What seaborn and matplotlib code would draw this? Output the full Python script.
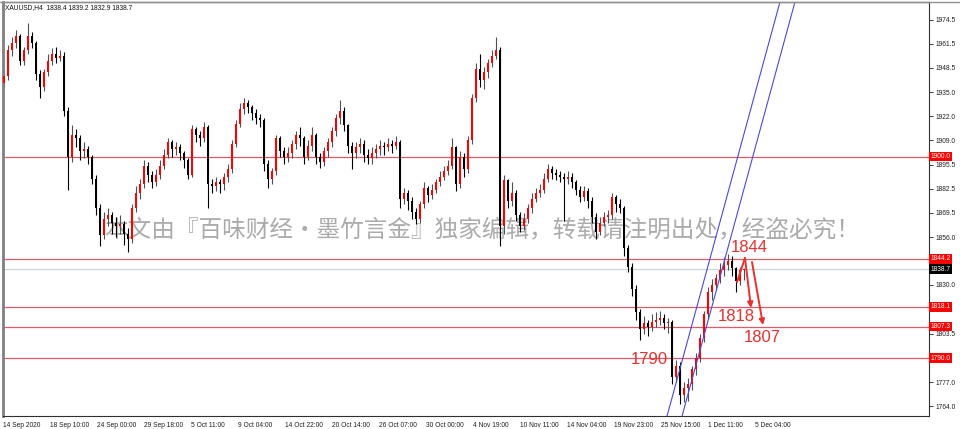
import seaborn as sns
import matplotlib.pyplot as plt
import numpy as np
import pandas as pd
from matplotlib.lines import Line2D

# XAUUSD H4, one entry per drawn candle
first_open = 1940.0
closes = [1944, 1958, 1962, 1966, 1952, 1958, 1966, 1962, 1945, 1938,
          1946, 1952, 1956, 1954, 1955, 1925, 1900, 1912, 1910, 1903,
          1904, 1900, 1888, 1872, 1857, 1866, 1868, 1864, 1862, 1863,
          1858, 1855, 1872, 1880, 1885, 1895, 1890, 1886, 1890, 1895,
          1901, 1908, 1904, 1905, 1902, 1898, 1890, 1915, 1912, 1910,
          1916, 1885, 1884, 1886, 1885, 1889, 1893, 1907, 1918, 1926,
          1929, 1927, 1924, 1921, 1920, 1896, 1888, 1892, 1910, 1903,
          1900, 1902, 1907, 1912, 1910, 1900, 1906, 1912, 1900, 1897,
          1903, 1908, 1914, 1921, 1925, 1917, 1906, 1902, 1905, 1907,
          1901, 1899, 1902, 1904, 1906, 1905, 1907, 1906, 1908, 1877,
          1880, 1876, 1870, 1866, 1874, 1883, 1879, 1882, 1886, 1889,
          1892, 1895, 1905, 1885, 1900, 1893, 1909, 1932, 1948, 1942,
          1946, 1951, 1955, 1958, 1862, 1887, 1876, 1880, 1868, 1862,
          1866, 1872, 1877, 1880, 1882, 1888, 1893, 1891, 1890, 1889,
          1888, 1889, 1886, 1882, 1878, 1881, 1876, 1867, 1859, 1864,
          1867, 1868, 1878, 1874, 1872, 1850, 1840, 1828, 1815, 1806,
          1809, 1807, 1810, 1811, 1812, 1809, 1810, 1780, 1786, 1770,
          1774, 1776, 1784, 1790, 1801, 1814, 1826, 1830, 1834, 1838,
          1841, 1843, 1839, 1832, 1838.4, 1838.7]
highs = [1947, 1961, 1965, 1969, 1967, 1960, 1973, 1968, 1963, 1947,
         1948, 1956, 1959, 1960, 1958, 1957, 1927, 1917, 1915, 1912,
         1908, 1906, 1901, 1890, 1874, 1870, 1872, 1870, 1867, 1868,
         1865, 1861, 1874, 1884, 1888, 1898, 1897, 1892, 1893, 1898,
         1904, 1910, 1909, 1908, 1907, 1903, 1899, 1917, 1916, 1914,
         1919, 1917, 1888, 1889, 1888, 1891, 1896, 1909, 1920, 1929,
         1932, 1931, 1928, 1926, 1923, 1921, 1898, 1894, 1912, 1911,
         1905, 1905, 1909, 1914, 1916, 1911, 1909, 1916, 1913, 1902,
         1905, 1910, 1916, 1923, 1931, 1927, 1918, 1908, 1908, 1910,
         1909, 1904, 1905, 1907, 1909, 1908, 1910, 1909, 1911, 1909,
         1883, 1882, 1878, 1872, 1876, 1886, 1884, 1885, 1888, 1892,
         1895, 1898, 1910, 1906, 1903, 1902, 1911, 1934, 1951, 1956,
         1949, 1953, 1958, 1965, 1960, 1890, 1888, 1886, 1882, 1870,
         1869, 1874, 1880, 1883, 1885, 1891, 1896, 1895, 1893, 1892,
         1891, 1892, 1891, 1887, 1884, 1884, 1883, 1878, 1869, 1867,
         1870, 1871, 1880, 1879, 1877, 1873, 1852, 1842, 1830, 1817,
         1813, 1811, 1814, 1815, 1816, 1814, 1812, 1811, 1789, 1788,
         1777, 1779, 1786, 1793, 1803, 1816, 1829, 1833, 1836, 1842,
         1845, 1847, 1846, 1840, 1840, 1839.2]
lows = [1938, 1942, 1955, 1959, 1950, 1950, 1956, 1959, 1942, 1932,
        1936, 1944, 1950, 1951, 1952, 1922, 1882, 1897, 1905, 1898,
        1899, 1896, 1885, 1868, 1851, 1855, 1862, 1858, 1856, 1858,
        1852, 1848, 1853, 1870, 1877, 1883, 1886, 1883, 1884, 1888,
        1893, 1899, 1900, 1901, 1898, 1894, 1888, 1889, 1908, 1906,
        1908, 1872, 1880, 1881, 1880, 1882, 1886, 1891, 1905, 1916,
        1923, 1924, 1920, 1918, 1916, 1892, 1883, 1885, 1890, 1900,
        1896, 1897, 1899, 1904, 1906, 1896, 1898, 1903, 1896, 1894,
        1895, 1900, 1905, 1911, 1918, 1914, 1902, 1893, 1899, 1902,
        1897, 1896, 1896, 1899, 1901, 1901, 1903, 1902, 1904, 1872,
        1874, 1871, 1866, 1863, 1864, 1872, 1875, 1877, 1880, 1884,
        1887, 1890, 1893, 1881, 1883, 1889, 1891, 1907, 1930, 1938,
        1937, 1943, 1949, 1953, 1851, 1858, 1872, 1873, 1865, 1859,
        1860, 1864, 1869, 1875, 1878, 1880, 1886, 1888, 1887, 1886,
        1865, 1885, 1883, 1879, 1875, 1876, 1872, 1864, 1855, 1857,
        1862, 1864, 1866, 1870, 1869, 1846, 1837, 1824, 1811, 1800,
        1803, 1802, 1805, 1807, 1808, 1806, 1804, 1776, 1777, 1765,
        1766, 1767, 1773, 1781, 1788, 1799, 1812, 1822, 1827, 1831,
        1835, 1838, 1835, 1826, 1830, 1832.9]

level_prices = [1900.0, 1844.2, 1818.1, 1807.3, 1790.0]
last_price = 1838.7
price_ticks = [1974.5, 1961.5, 1948.5, 1935.0, 1922.0, 1909.0, 1895.5, 1882.5,
               1869.5, 1856.0, 1843.0, 1830.0, 1816.5, 1803.5, 1790.5, 1777.0, 1764.0]
# scale values that sit behind the level boxes
hidden_ticks = [1843.0, 1816.5, 1790.5]
time_labels = ['14 Sep 2020', '18 Sep 10:00', '24 Sep 00:00', '29 Sep 18:00',
               '5 Oct 11:00', '9 Oct 04:00', '14 Oct 22:00', '20 Oct 14:00',
               '26 Oct 07:00', '30 Oct 00:00', '4 Nov 19:00', '10 Nov 11:00',
               '14 Nov 04:00', '19 Nov 23:00', '25 Nov 15:00', '1 Dec 11:00',
               '5 Dec 04:00']
target_labels = ['1844', '1818', '1807', '1790']
watermark = '本文由『百味财经·墨竹言金』独家编辑，转载请注明出处，经盗必究！'
title = 'XAUUSD,H4  1838.4 1839.2 1832.9 1838.7'

# channel anchors (bar, price)
channel_a = [(164.7, 1750.0), (194.7, 1990.0)]
channel_b = [(168.45, 1750.0), (198.45, 1990.0)]

sns.set_style("white")
plt.rcParams['font.family'] = ['Liberation Sans', 'DejaVu Sans']

df = pd.DataFrame({'close': closes, 'high': highs, 'low': lows})
df['open'] = [first_open] + closes[:-1]
df['bar'] = np.arange(len(df))
df['up'] = df['close'] >= df['open']

RED = '#ff0000'
LEVEL = '#dc5a6a'
TXT_RED = '#e8312f'

fig = plt.figure(figsize=(9.6, 4.29), dpi=100)
ax = fig.add_axes([3 / 960, 13 / 429, 926 / 960, 414 / 429])
ax.set_xlim(-0.25, 231.25)
ax.set_ylim(1758.55, 1984.3)

# watermark sits under the candles
ax.text(119.5, 1860.0, watermark, ha='center', va='center', fontsize=17,
        color='#ababab', family=['Noto Sans CJK SC', 'DejaVu Sans'], zorder=0.5)

# levels
for p in level_prices:
    ax.axhline(p, color=LEVEL, lw=0.9, zorder=1)
ax.axhline(last_price, color='#c8d0d8', lw=0.8, zorder=1)

# candles
wick_col = np.where(df['up'], '#505050', '#000000')
body_col = np.where(df['up'], RED, '#000000')
ax.vlines(df['bar'], df['low'], df['high'], colors=wick_col, lw=0.8, zorder=2)
body_lo = np.minimum(df['open'], df['close'])
body_h = np.maximum(np.abs(df['close'] - df['open']), 0.4)
ax.bar(df['bar'], body_h, bottom=body_lo, width=0.55, color=body_col, lw=0, zorder=3)

# trend channel
chan = pd.DataFrame({
    'x': [p[0] for p in channel_a] + [p[0] for p in channel_b],
    'y': [p[1] for p in channel_a] + [p[1] for p in channel_b],
    'line': ['a', 'a', 'b', 'b'],
})
sns.lineplot(data=chan, x='x', y='y', units='line', estimator=None, sort=False,
             color='#4a4ad8', lw=0.8, ax=ax, zorder=4)

# red targets
ax.plot([183.25, 185.25], [1831.6, 1844.7], color=TXT_RED, lw=1.4, zorder=5)
arrow = dict(arrowstyle='-|>', color=TXT_RED, lw=1.4, mutation_scale=8, shrinkA=0, shrinkB=0)
ax.annotate('', xy=(186.75, 1817.5), xytext=(185.25, 1844.7), arrowprops=arrow, zorder=5)
ax.annotate('', xy=(189.75, 1808.2), xytext=(187.0, 1842.5), arrowprops=arrow, zorder=5)
for lab, (tx, ty) in zip(target_labels, [(186.25, 1850.6), (183.0, 1812.8),
                                          (189.5, 1801.1), (161.3, 1789.1)]):
    ax.text(tx, ty, lab, ha='center', va='center', fontsize=12, color=TXT_RED, zorder=6)

ax.set_xlabel('')
ax.set_ylabel('')

# price scale on the right
ax.yaxis.tick_right()
ax.set_yticks(price_ticks)
ax.set_yticklabels(['' if v in hidden_ticks else f'{v:.1f}' for v in price_ticks])
ax.tick_params(axis='y', labelsize=4.8, length=3, width=0.6, pad=2,
               colors='#202020', direction='out')
for p in level_prices:
    ax.text(1.0015, p, f'{p:.1f}', transform=ax.get_yaxis_transform(), ha='left',
            va='center', fontsize=4.8, color='white', zorder=7, clip_on=False,
            bbox=dict(boxstyle='square,pad=0.2', fc=RED, ec='none'))
ax.text(1.0015, last_price, f'{last_price:.1f}', transform=ax.get_yaxis_transform(),
        ha='left', va='center', fontsize=4.8, color='white', zorder=7, clip_on=False,
        bbox=dict(boxstyle='square,pad=0.2', fc='black', ec='none'))

# time scale
xt = [-0.25 + 11.75 * k for k in range(len(time_labels))]
ax.set_xticks(xt)
ax.set_xticklabels(time_labels, ha='left')
ax.tick_params(axis='x', labelsize=4.8, length=3, width=0.6, pad=1,
               colors='#202020', direction='out')

for s in ['left', 'top']:
    ax.spines[s].set_color('#808080')
ax.spines['left'].set_linewidth(2)
ax.spines['top'].set_linewidth(1)
for s in ['right', 'bottom']:
    ax.spines[s].set_color('#303030')
    ax.spines[s].set_linewidth(0.8)

fig.add_artist(Line2D([0, 1], [1 - 2 / 429, 1 - 2 / 429], color='#909090', lw=1))
fig.text(5 / 960, 1 - 8 / 429, title, fontsize=4.8, color='#101010', va='center')

plt.savefig('out.png', dpi=100)
